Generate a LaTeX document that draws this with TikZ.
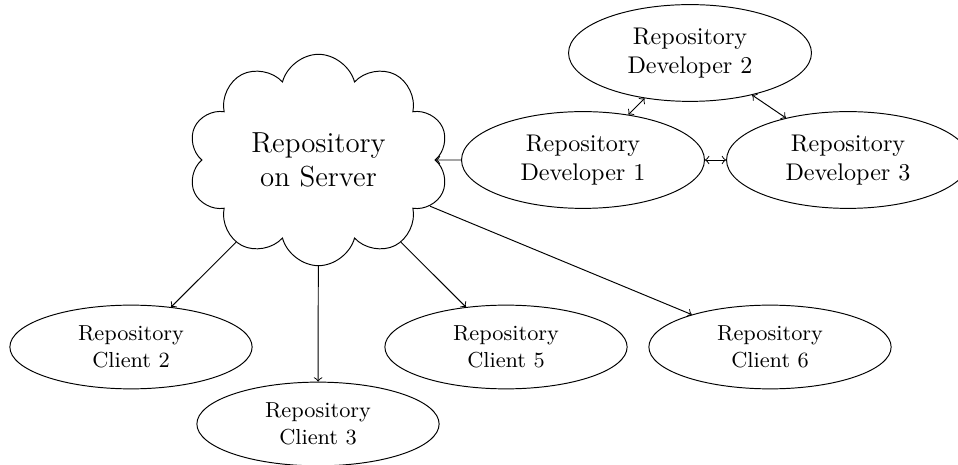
\documentclass[tikz,border=0pt]{standalone}
\usetikzlibrary{shapes.geometric,shapes.symbols}
\begin{document}
\begin{tikzpicture}[x=0.014577cm,y=-0.014577cm,
  devbox/.style={draw,ellipse,align=center,minimum width=3.54cm,minimum height=1.41cm,inner sep=0pt},
  clientbox/.style={draw,ellipse,align=center,minimum width=3.53cm,minimum height=1.22cm,inner sep=0pt,font=\small},
  cloudbox/.style={draw,cloud,cloud puffs=10,aspect=1.24,align=center,minimum width=3.80cm,minimum height=3.08cm,inner sep=0pt,font=\large},
  conn/.style={->},
  biconn/.style={<->}]
\useasboundingbox (0,0) rectangle (958,465);
\node[cloudbox] (cloud) at (318.5,160) {Repository\\on Server};
\node[devbox] (dev1) at (583,160) {Repository\\Developer 1};
\node[devbox] (dev2) at (690,53) {Repository\\Developer 2};
\node[devbox] (dev3) at (848,160) {Repository\\Developer 3};
\node[clientbox] (c2) at (131,347) {Repository\\Client 2};
\node[clientbox] (c3) at (318,424) {Repository\\Client 3};
\node[clientbox] (c5) at (506,347) {Repository\\Client 5};
\node[clientbox] (c6) at (770,347) {Repository\\Client 6};
\draw[conn] (dev1) -- (cloud);
\draw[biconn] (dev1) -- (dev2);
\draw[biconn] (dev2) -- (dev3);
\draw[biconn] (dev1) -- (dev3);
\draw[conn] (cloud) -- (c2);
\draw[conn] (cloud) -- (c3);
\draw[conn] (cloud) -- (c5);
\draw[conn] (cloud) -- (c6);
\end{tikzpicture}
\end{document}
